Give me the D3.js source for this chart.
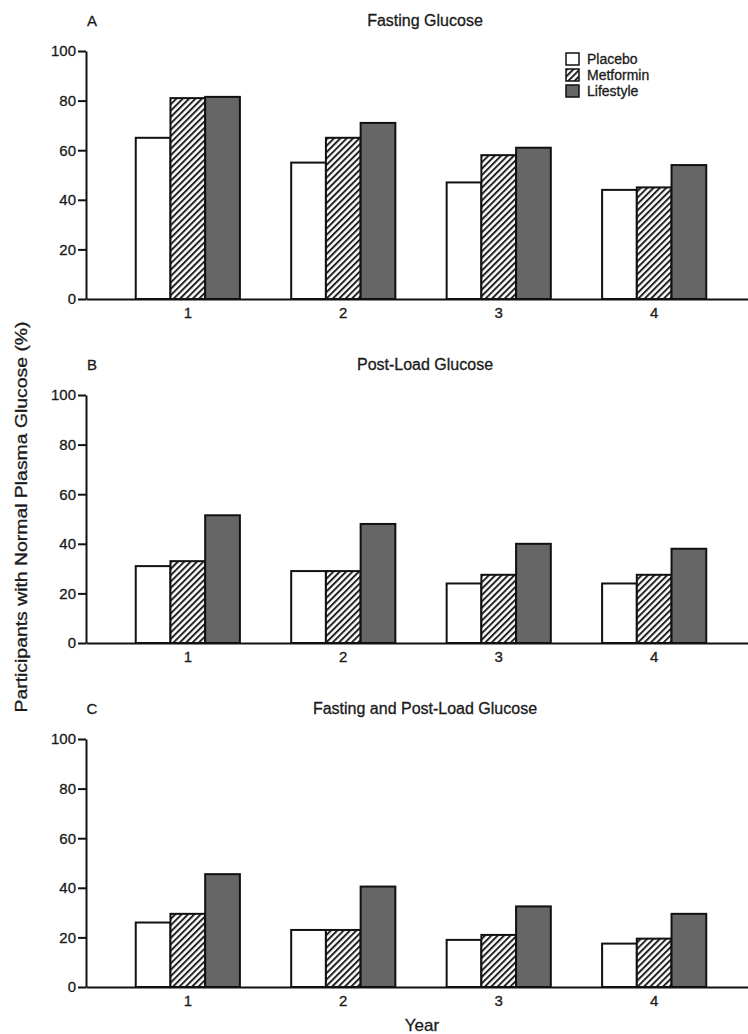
<!DOCTYPE html>
<html>
<head>
<meta charset="utf-8">
<script src="https://cdn.jsdelivr.net/npm/d3@7/dist/d3.min.js"></script>
<style>
  body { margin: 0; background: #fff; }
  text { font-family: "Liberation Sans", Arial, sans-serif; fill: #1a1a1a; stroke: #1a1a1a; stroke-width: 0.3px; }
</style>
</head>
<body>
<div id="vis"></div>
<script>
    var w = 748, h = 1034;

    // data
    var years = ["1", "2", "3", "4"];
    var groups = ["Placebo", "Metformin", "Lifestyle"];
    var panelLetters = ["A", "B", "C"];
    var panelTitles = ["Fasting Glucose", "Post-Load Glucose", "Fasting and Post-Load Glucose"];
    var yTicks = [0, 20, 40, 60, 80, 100];

    var fastingPlacebo = [65, 55, 47, 44];
    var fastingMetformin = [81, 65, 58, 45];
    var fastingLifestyle = [81.5, 71, 61, 54];

    var postPlacebo = [31, 29, 24, 24];
    var postMetformin = [33, 29, 27.5, 27.5];
    var postLifestyle = [51.5, 48, 40, 38];

    var bothPlacebo = [26, 23, 19, 17.5];
    var bothMetformin = [29.5, 23, 21, 19.5];
    var bothLifestyle = [45.5, 40.5, 32.5, 29.5];

    var panelValues = [
      [fastingPlacebo, fastingMetformin, fastingLifestyle],
      [postPlacebo, postMetformin, postLifestyle],
      [bothPlacebo, bothMetformin, bothLifestyle]
    ];

    var svg = d3.select("#vis").append("svg")
      .attr("width", w)
      .attr("height", h)

    // hatch for metformin
    var defs = svg.append("defs");
    defs.append("pattern")
      .attr("id", "hatch")
      .attr("patternUnits", "userSpaceOnUse")
      .attr("width", 4.5)
      .attr("height", 4.5)
      .attr("patternTransform", "rotate(45)")
      .call(function(p) {
        p.append("rect").attr("width", 4.5).attr("height", 4.5).attr("fill", "#fff");
        p.append("line")
          .attr("x1", 1).attr("y1", 0)
          .attr("x2", 1).attr("y2", 4.5)
          .attr("stroke", "#222")
          .attr("stroke-width", 2);
      });

    var fills = { Placebo: "#fff", Metformin: "url(#hatch)", Lifestyle: "#666" };

    var axisLeft = 86;
    var panelH = 248;
    var zeroYs = [299, 643, 987];

    var x = d3.scaleBand()
      .domain(years)
      .range([axisLeft, 756])
      .paddingInner(0.33)
      .paddingOuter(0.32);

    var xSub = d3.scaleBand()
      .domain(groups)
      .range([0, x.bandwidth()]);

    panelValues.forEach(function(vals, pi) {
      var zero = zeroYs[pi];
      var y = d3.scaleLinear().domain([0, 100]).range([zero, zero - panelH]);

      var g = svg.append("g").attr("class", "panel");

      var rows = [];
      years.forEach(function(yr, i) {
        groups.forEach(function(gr, j) {
          rows.push({ year: yr, group: gr, value: vals[j][i] });
        });
      });

      g.selectAll("rect.bar")
        .data(rows)
        .enter().append("rect")
        .attr("class", "bar")
        .attr("x", function(d) { return x(d.year) + xSub(d.group); })
        .attr("y", function(d) { return y(d.value); })
        .attr("width", xSub.bandwidth())
        .attr("height", function(d) { return zero - y(d.value); })
        .attr("fill", function(d) { return fills[d.group]; })
        .attr("stroke", "#111")
        .attr("stroke-width", 2);

      // y axis
      var ya = g.append("g")
        .attr("transform", "translate(" + axisLeft + ",0)")
        .call(d3.axisLeft(y).tickValues(yTicks).tickSize(8).tickPadding(2).tickSizeOuter(0));
      ya.select(".domain").attr("stroke", "#111").attr("stroke-width", 2);
      ya.selectAll(".tick line").attr("stroke", "#111").attr("stroke-width", 2);
      ya.selectAll(".tick text").style("font-size", "15px");

      // x axis
      var xa = g.append("g")
        .attr("transform", "translate(0," + zero + ")")
        .call(d3.axisBottom(x).tickSize(0).tickPadding(8));
      xa.select(".domain").attr("stroke", "#111").attr("stroke-width", 2);
      xa.selectAll(".tick text").style("font-size", "15px");

      g.append("text")
        .attr("x", 92)
        .attr("y", zero - panelH - 25)
        .attr("text-anchor", "middle")
        .style("font-size", "15px")
        .text(panelLetters[pi]);

      g.append("text")
        .attr("x", 425)
        .attr("y", zero - panelH - 25)
        .attr("text-anchor", "middle")
        .style("font-size", "16px")
        .text(panelTitles[pi]);
    });

    // legend
    var legend = svg.append("g").attr("transform", "translate(566,53)");
    var item = legend.selectAll("g")
      .data(groups)
      .enter().append("g")
      .attr("transform", function(d, i) { return "translate(0," + (i * 16) + ")"; });
    item.append("rect")
      .attr("width", 13)
      .attr("height", 12)
      .attr("fill", function(d) { return fills[d]; })
      .attr("stroke", "#111")
      .attr("stroke-width", 1.5);
    item.append("text")
      .attr("x", 21)
      .attr("y", 11)
      .style("font-size", "14px")
      .text(function(d) { return d; });

    // axis titles
    svg.append("text")
      .attr("transform", "translate(27,517) rotate(-90)")
      .attr("text-anchor", "middle")
      .attr("textLength", 391)
      .attr("lengthAdjust", "spacingAndGlyphs")
      .style("font-size", "16px")
      .text("Participants with Normal Plasma Glucose (%)");

    svg.append("text")
      .attr("x", 422)
      .attr("y", 1031)
      .attr("text-anchor", "middle")
      .style("font-size", "17px")
      .text("Year");
</script>
</body>
</html>
